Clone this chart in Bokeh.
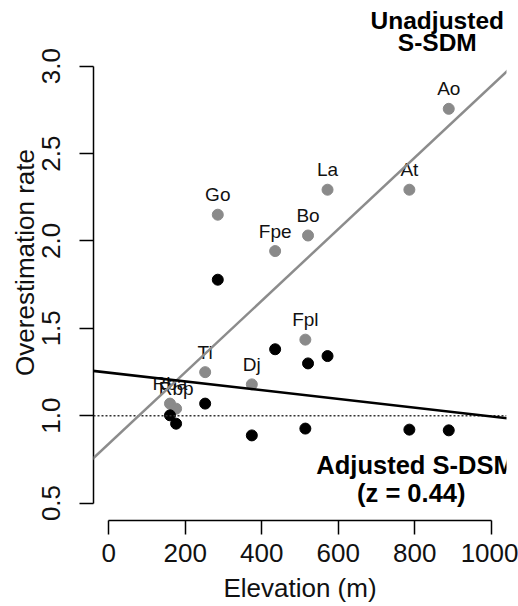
from bokeh.plotting import figure
from bokeh.models import ColumnDataSource, Range1d, Slope, Span, Label
from bokeh.core.properties import value
from bokeh.embed import file_html
from bokeh.resources import INLINE

# ---- data ----
sites = ["Ao", "At", "La", "Bo", "Fpe", "Go", "Fpl", "Ti", "Dj", "Rba", "Rbp"]
elevation = [889, 786, 572, 521, 435, 285, 514, 252, 374, 160, 176]
unadjusted = [2.756, 2.293, 2.293, 2.031, 1.942, 2.150, 1.435, 1.249, 1.179, 1.069, 1.040]
adjusted = [0.916, 0.920, 1.341, 1.299, 1.380, 1.778, 0.926, 1.069, 0.887, 1.002, 0.954]

unadj_intercept, unadj_slope = 0.839, 0.002047
adj_intercept, adj_slope = 1.246, -0.00025
reference_level = 1.0

x_ticks = [0, 200, 400, 600, 800, 1000]
y_ticks = [0.5, 1.0, 1.5, 2.0, 2.5, 3.0]
y_tick_labels = ["0.5", "1.0", "1.5", "2.0", "2.5", "3.0"]

FONT = "Liberation Sans"

src = ColumnDataSource(dict(site=sites, elev=elevation, unadj=unadjusted, adj=adjusted))

p = figure(width=518, height=606, x_range=Range1d(-40, 1040), y_range=Range1d(0.4, 3.353),
           output_backend="svg", toolbar_location=None,
           min_border_left=93, min_border_right=12, min_border_top=4, min_border_bottom=86)
p.xgrid.visible = False
p.ygrid.visible = False
p.outline_line_color = None
p.background_fill_color = "white"
p.border_fill_color = "white"

# reference line and fitted lines
p.add_layout(Span(location=reference_level, dimension="width", line_dash="2 2",
                  line_color="#333333", line_width=1.5))

p.scatter("elev", "unadj", source=src, size=11, color="#8a8a8a")
p.scatter("elev", "adj", source=src, size=11, color="black")
p.text("elev", "unadj", text="site", source=src, text_align="center", text_baseline="middle",
       y_offset=-20, text_font=value(FONT), text_font_size="19px", text_color="#111111")

p.add_layout(Slope(gradient=unadj_slope, y_intercept=unadj_intercept,
                   line_color="#8c8c8c", line_width=2.5))
p.add_layout(Slope(gradient=adj_slope, y_intercept=adj_intercept,
                   line_color="black", line_width=2.5))

# annotations
for txt, x, y, fs in [("Unadjusted", 859, 3.261, "24.5px"), ("S-SDM", 859, 3.135, "24.5px"),
                      ("Adjusted S-DSM", 802, 0.716, "25.5px"), ("(z = 0.44)", 791, 0.555, "25.5px")]:
    p.add_layout(Label(x=x, y=y, text=txt, text_align="center", text_baseline="middle",
                       text_font=FONT, text_font_style="bold", text_font_size=fs,
                       text_color="black"))

# axes
for ax in (p.xaxis[0], p.yaxis[0]):
    ax.axis_line_width = 1.5
    ax.axis_line_color = "black"
    ax.major_tick_line_width = 1.5
    ax.major_tick_line_color = "black"
    ax.major_tick_out = 14
    ax.major_tick_in = 0
    ax.minor_tick_line_color = None
    ax.major_label_text_font = FONT
    ax.major_label_text_font_size = "26px"
    ax.major_label_text_color = "#111111"
    ax.axis_label_text_font = FONT
    ax.axis_label_text_font_size = "26px"
    ax.axis_label_text_font_style = "normal"
    ax.axis_label_text_color = "#111111"

p.xaxis.ticker = x_ticks
p.xaxis.bounds = (x_ticks[0], x_ticks[-1])
p.xaxis.axis_label = "Elevation (m)"
p.xaxis.major_label_standoff = 9
p.xaxis.axis_label_standoff = 8

p.yaxis.ticker = y_ticks
p.yaxis.bounds = (y_ticks[0], y_ticks[-1])
p.yaxis.major_label_overrides = {t: l for t, l in zip(y_ticks, y_tick_labels)}
p.yaxis.major_label_orientation = "parallel"
p.yaxis.axis_label = "Overestimation rate"
p.yaxis.major_label_standoff = 19
p.yaxis.axis_label_standoff = 0

open("out.html", "w").write(file_html(p, INLINE))
